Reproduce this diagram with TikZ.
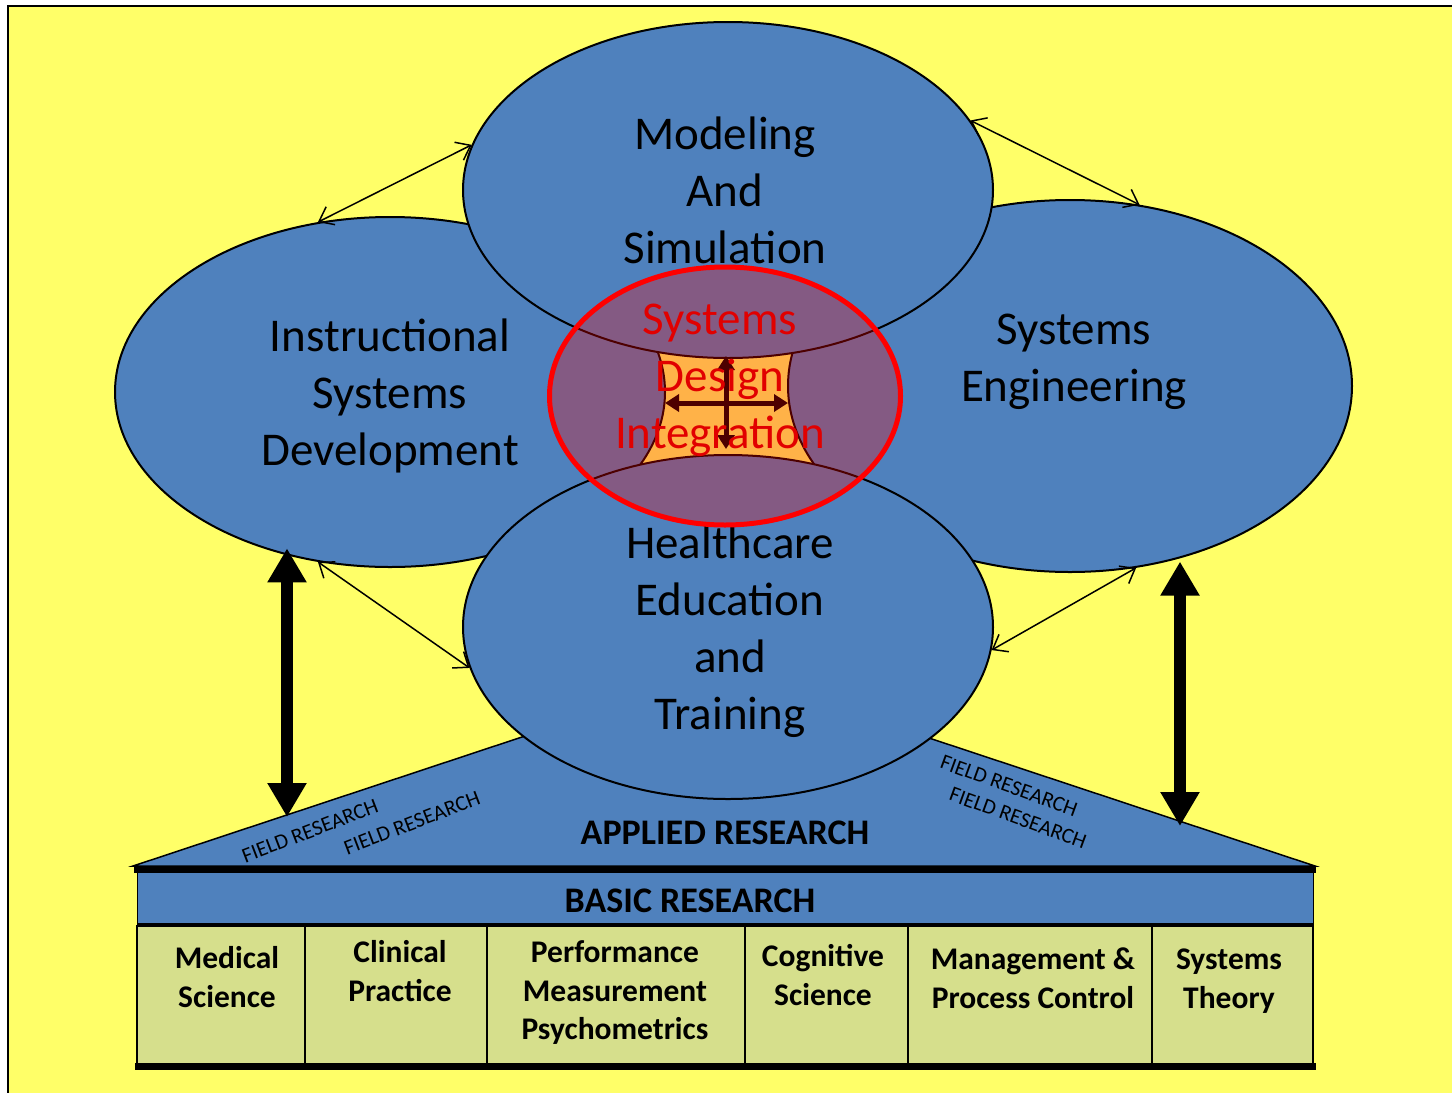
\documentclass[tikz,border=0pt]{standalone}
\usepackage{fontspec}
\setmainfont{Carlito}
\usetikzlibrary{shapes.geometric,arrows.meta}
\definecolor{bgyellow}{RGB}{255,255,104}
\definecolor{ellblue}{RGB}{79,129,189}
\definecolor{boxgreen}{RGB}{214,223,140}
\definecolor{sdired}{RGB}{225,0,0}
\tikzset{
  field/.style={draw=black,fill=ellblue,ellipse,inner sep=0pt,line width=2pt,
    font=\fontsize{47}{57}\selectfont,align=center},
  bigtext/.style={font=\fontsize{47}{57}\selectfont,align=center},
  link/.style={line width=1.5pt,
    {Straight Barb[length=13pt,width=20pt]}-{Straight Barb[length=13pt,width=20pt]}},
  bigarrow/.style={line width=12pt,
    {Triangle[length=34pt,width=37pt]}-{Triangle[length=34pt,width=37pt]}},
  cross/.style={line width=5pt,
    {Triangle[length=14pt,width=17pt]}-{Triangle[length=14pt,width=17pt]}},
  fieldres/.style={font=\fontsize{21.5}{24}\selectfont},
  research/.style={font=\bfseries\fontsize{36}{40}\selectfont},
  discipline/.style={font=\bfseries\fontsize{31.5}{38.5}\selectfont,align=center},
}
\begin{document}
\begin{tikzpicture}[x=1pt,y=-1pt]
\useasboundingbox (0,0) rectangle (1452,1093);
% backdrop and frame
\fill[bgyellow] (8,6) rectangle (1452,1093);
\draw[line width=2.5pt] (8,1093) -- (8,6) -- (1452,6);
%
% applied research wedge, sits under the bottom ellipse
\coordinate (wl) at (133,866);
\coordinate (wa) at (724,670);
\coordinate (wr) at (1315,866);
\draw[fill=ellblue,line width=1.5pt] (wl) -- (wa) -- (wr) -- cycle;
%
% the four fields
\node[field,minimum width=550pt,minimum height=350pt] (isd) at (390,392) {};
\node[bigtext] (isdtxt) at ([shift={(0,4)}]isd.center) {Instructional\\Systems\\Development};
\node[field,minimum width=564pt,minimum height=372pt] (se) at (1070,386) {};
\node[bigtext] (setxt) at ([shift={(4,-24)}]se.center) {Systems\\Engineering};
\node[field,minimum width=530pt,minimum height=336pt] (ms) at (728,190) {};
\node[bigtext] (mstxt) at ([shift={(-3,0)}]ms.center) {Modeling\\And\\Simulation};
\node[field,minimum width=530pt,minimum height=344pt] (het) at (728,627) {};
\node[bigtext] (hettxt) at ([shift={(2,5)}]het.center) {Healthcare\\Education\\and\\Training};
%
% cross in the middle, then the red overlay
\draw[cross] (665,403) -- (788,403);
\draw[cross] (726,356) -- (726,449);
\node[ellipse,draw=red,line width=5pt,fill=red,fill opacity=0.3,inner sep=0pt,
  minimum width=351pt,minimum height=258pt] (sdi) at (725,396) {};
\node[bigtext,text=sdired] (sditxt) at ([shift={(-5,-16)}]sdi.center) {Systems\\Design\\Integration};
%
% links between the fields
\draw[link] (isd.113) -- (ms.170);
\draw[link] (ms.16) -- (se.69);
\draw[link] (isd.247) -- (het.189);
\draw[link] (se.290) -- (het.355);
%
% basic research bar
\fill[ellblue] (137,869) rectangle (1313,925);
\draw[line width=1pt] (137,869) -- (137,925) (1313,869) -- (1313,925);
\draw[line width=7pt] (134,869) -- (1316,869);
\draw[line width=5pt] (137,925) -- (1313,925);
\node[research] (applied) at (725,833) {APPLIED RESEARCH};
\node[research] (basic) at (690,901) {BASIC RESEARCH};
%
% disciplines
\fill[boxgreen] (137,927) rectangle (1313,1063);
\foreach \x in {137,305,487,745,908,1152,1313}
  \draw[line width=2.5pt] (\x,925) -- (\x,1064);
\draw[line width=7pt] (135,1066) -- (1316,1066);
\node[discipline] (med) at (227,977) {Medical\\Science};
\node[discipline] (clin) at (400,971) {Clinical\\Practice};
\node[discipline] (perf) at (615,993) {Performance\\Measurement\\Psychometrics};
\node[discipline] (cog) at (823,975) {Cognitive\\Science};
\node[discipline] (mgmt) at (1033,978) {Management \&\\Process Control};
\node[discipline] (sys) at (1229,981) {Systems\\Theory};
%
% field research labels along the wedge
\node[fieldres,rotate=21] (frA) at (310,831) {FIELD RESEARCH};
\node[fieldres,rotate=21] (frB) at (412,823) {FIELD RESEARCH};
\node[fieldres,rotate=-20] (frC) at (1009,786) {FIELD RESEARCH};
\node[fieldres,rotate=-20] (frD) at (1018,818) {FIELD RESEARCH};
%
% research feedback arrows
\coordinate (fbl) at (287,817);
\coordinate (fbr) at (1180,826);
\draw[bigarrow] (fbl |- isd.231) -- (fbl);
\draw[bigarrow] (fbr |- se.299) -- (fbr);
\end{tikzpicture}
\end{document}
